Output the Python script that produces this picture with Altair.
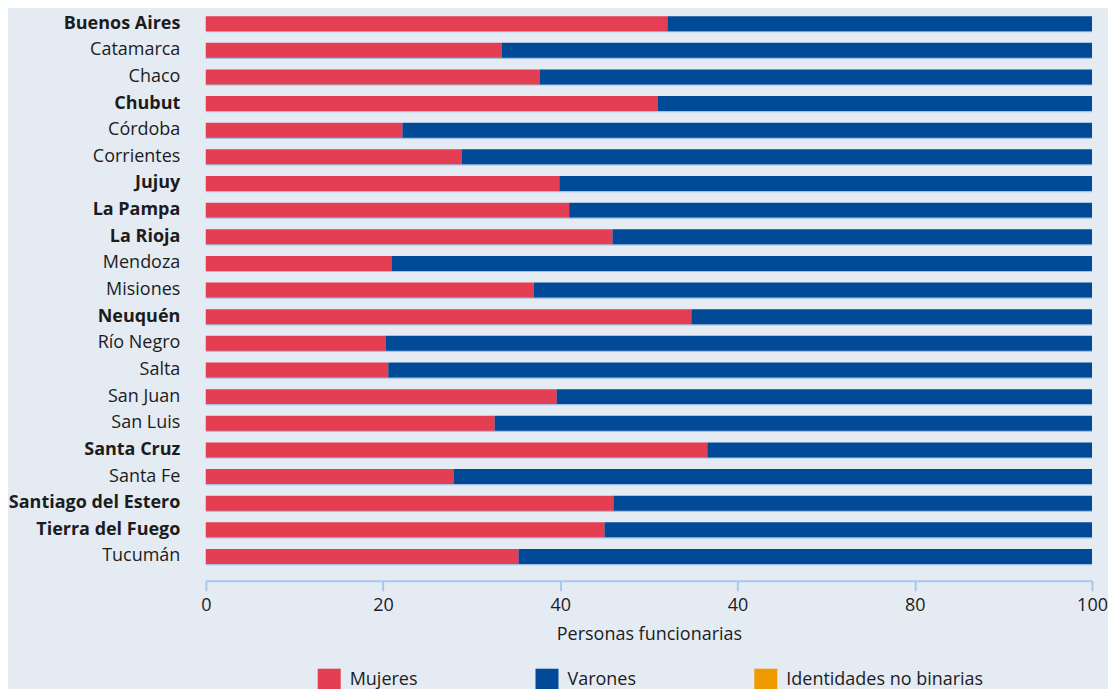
import json
import altair as alt
import pandas as pd

provincias = [
    "Buenos Aires", "Catamarca", "Chaco", "Chubut", "Córdoba", "Corrientes",
    "Jujuy", "La Pampa", "La Rioja", "Mendoza", "Misiones", "Neuquén",
    "Río Negro", "Salta", "San Juan", "San Luis", "Santa Cruz", "Santa Fe",
    "Santiago del Estero", "Tierra del Fuego", "Tucumán",
]
mujeres = [52.1, 33.4, 37.7, 51.0, 22.2, 28.9, 39.9, 41.0, 45.9, 21.0, 37.0,
           54.8, 20.3, 20.6, 39.6, 32.6, 56.6, 28.0, 46.0, 45.0, 35.3]
varones = [47.9, 66.6, 62.3, 49.0, 77.8, 71.1, 60.1, 59.0, 54.1, 79.0, 63.0,
           45.2, 79.7, 79.4, 60.4, 67.4, 43.4, 72.0, 54.0, 55.0, 64.7]
no_binarias = [0.0] * 21
provincias_destacadas = [
    "Buenos Aires", "Chubut", "Jujuy", "La Pampa", "La Rioja", "Neuquén",
    "Santa Cruz", "Santiago del Estero", "Tierra del Fuego",
]
grupos = ["Mujeres", "Varones", "Identidades no binarias"]
colores = ["#e43e53", "#004a98", "#f09a00"]
tick_values = [0, 20, 40, 60, 80, 100]
tick_labels = ["0", "20", "40", "40", "80", "100"]

rows = []
for i, p in enumerate(provincias):
    for k, (g, vals) in enumerate(zip(grupos, [mujeres, varones, no_binarias])):
        rows.append({"provincia": p, "grupo": g, "valor": vals[i], "orden": k})
df = pd.DataFrame(rows)

FONT = "Open Sans"
TEXT = "#1c1c1c"
AXISC = "#a9c8ea"

bold_expr = "indexof(%s, datum.value) >= 0 ? 'bold' : 'normal'" % json.dumps(
    provincias_destacadas, ensure_ascii=False)
label_expr = "%s[round(datum.value / 20)]" % json.dumps(tick_labels)

y_enc = alt.Y(
    "provincia:N",
    sort=provincias,
    scale=alt.Scale(paddingInner=0.4375, paddingOuter=0.21875),
    axis=alt.Axis(
        title=None, domain=False, ticks=False, labelPadding=26,
        labelFontSize=18, labelFont=FONT, labelColor=TEXT,
        labelFontWeight={"expr": bold_expr},
        minExtent=197, maxExtent=197, labelLimit=400,
    ),
)

base = alt.Chart(df)

shadow = base.transform_aggregate(
    total="sum(valor)", groupby=["provincia"]
).mark_bar(yOffset=1.2, color="#a3bfe3").encode(
    x=alt.X("total:Q", scale=alt.Scale(domain=[0, 100], nice=False)),
    y=y_enc,
)

bars = base.mark_bar().encode(
    x=alt.X(
        "valor:Q",
        stack="zero",
        scale=alt.Scale(domain=[0, 100], nice=False),
        axis=alt.Axis(
            values=tick_values, labelExpr=label_expr, labelFlush=False,
            title="Personas funcionarias", grid=False,
            offset=11, tickSize=10, tickWidth=2, domainWidth=2,
            domainColor=AXISC, tickColor=AXISC,
            labelFontSize=18, labelFont=FONT, labelColor=TEXT, labelPadding=6,
            titleFontSize=18, titleFont=FONT, titleColor=TEXT,
            titleFontWeight="normal", titlePadding=11,
        ),
    ),
    y=y_enc,
    color=alt.Color(
        "grupo:N",
        scale=alt.Scale(domain=grupos, range=colores),
        legend=alt.Legend(
            title=None, orient="none", legendX=112, legendY=659,
            direction="horizontal", columns=3, columnPadding=118,
            symbolType="square", symbolSize=529, symbolStrokeWidth=0,
            symbolOpacity=1, labelFontSize=18, labelFont=FONT,
            labelColor=TEXT, labelOffset=9, padding=0, labelLimit=400,
        ),
    ),
    order=alt.Order("orden:Q"),
)

chart = alt.layer(shadow, bars).properties(
    width=887, height=560,
    padding={"top": 2, "left": 0, "right": 0, "bottom": 5},
    background="#e4ebf3",
).configure_view(stroke=None)

chart.save("out.html", embed_options={"renderer": "svg", "actions": False})
